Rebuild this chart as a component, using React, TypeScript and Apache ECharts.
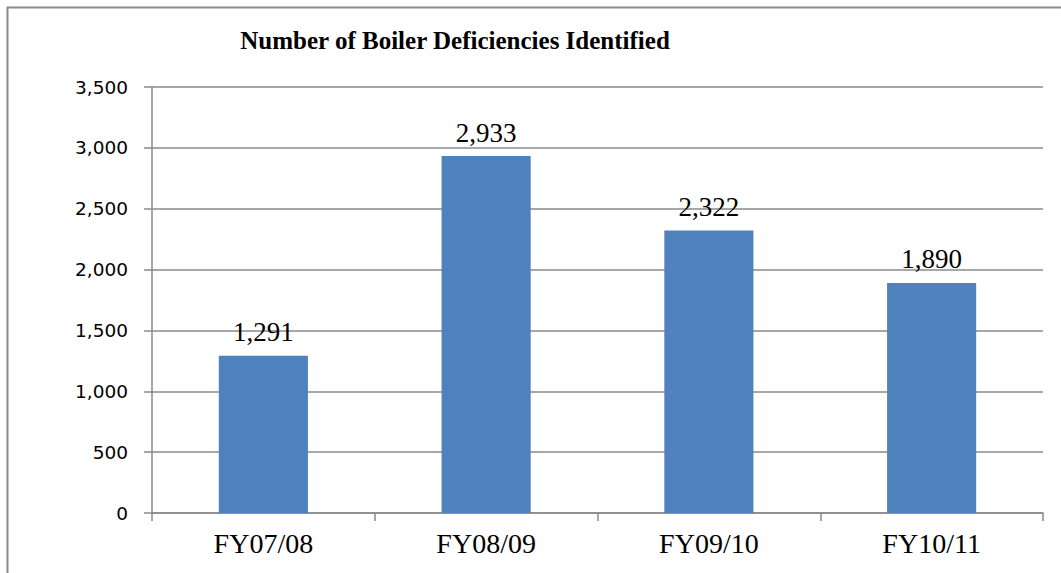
import React, { useEffect, useRef } from "react";
import * as echarts from "echarts";

const categories = ["FY07/08", "FY08/09", "FY09/10", "FY10/11"];
const deficiencies = [1291, 2933, 2322, 1890];
const yTicks = { min: 0, max: 3500, interval: 500 };
const titleText = "Number of Boiler Deficiencies Identified";

export default function App() {
  const ref = useRef<HTMLDivElement>(null);
  useEffect(() => {
    if (!ref.current) return;
    const chart = echarts.init(ref.current, null, { renderer: "svg" });
    chart.setOption({
      animation: false,
      backgroundColor: "#ffffff",
      title: {
        text: titleText,
        left: 450,
        textAlign: "center",
        top: 23,
        textStyle: {
          fontFamily: "Liberation Serif",
          fontWeight: "bold",
          fontSize: 25,
          color: "#000",
        },
      },
      graphic: [
        {
          type: "rect",
          shape: { x: 7.5, y: 7.5, width: 1200, height: 800 },
          style: { fill: "none", stroke: "#8a8a8a", lineWidth: 2 },
          silent: true,
        },
      ],
      grid: { left: 152, right: 18, top: 87, bottom: 60 },
      xAxis: {
        type: "category",
        data: categories,
        axisLine: { lineStyle: { color: "#8a8a8a", width: 1.5 } },
        axisTick: { show: true, length: 8, lineStyle: { color: "#8a8a8a", width: 1.5 } },
        axisLabel: {
          fontFamily: "Liberation Serif",
          fontSize: 28,
          color: "#000",
          margin: 16,
        },
      },
      yAxis: {
        type: "value",
        min: yTicks.min,
        max: yTicks.max,
        interval: yTicks.interval,
        axisLine: { show: true, lineStyle: { color: "#8a8a8a", width: 1.5 } },
        axisTick: { show: true, length: 8, lineStyle: { color: "#8a8a8a", width: 1.5 } },
        splitLine: { lineStyle: { color: "#8a8a8a", width: 1.5 } },
        axisLabel: {
          fontFamily: "DejaVu Sans",
          fontSize: 18.5,
          color: "#000",
          margin: 24,
          formatter: (v: number) => v.toLocaleString("en-US"),
        },
      },
      series: [
        {
          type: "bar",
          data: deficiencies,
          barWidth: "40%",
          itemStyle: { color: "#4F81BD" },
          label: {
            show: true,
            position: "top",
            distance: 10,
            fontFamily: "Liberation Serif",
            fontSize: 27,
            color: "#000",
            formatter: (p: any) => Number(p.value).toLocaleString("en-US"),
          },
        },
      ],
    });
    return () => chart.dispose();
  }, []);
  return (
    <div
      ref={ref}
      style={{ position: "fixed", left: 0, top: 0, width: 1061, height: 573 }}
    />
  );
}
